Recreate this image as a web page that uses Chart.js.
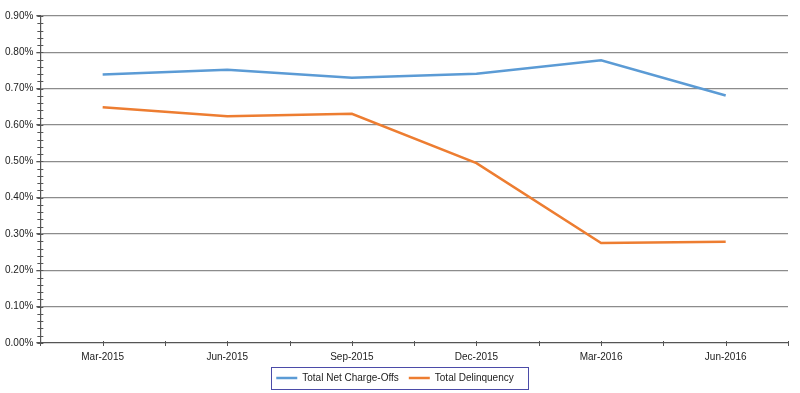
<!DOCTYPE html>
<html>
<head>
<meta charset="utf-8">
<script src="https://cdn.jsdelivr.net/npm/chart.js@4"></script>
<style>
  html, body { margin: 0; padding: 0; background: #fff; }
  #wrap { width: 800px; height: 393px; position: relative; }
</style>
</head>
<body>
<div id="wrap"><canvas id="c" width="800" height="393"></canvas></div>
<script>
const categories = ['Mar-2015', 'Jun-2015', 'Sep-2015', 'Dec-2015', 'Mar-2016', 'Jun-2016'];
const netChargeOffs = [0.739, 0.752, 0.730, 0.741, 0.778, 0.681];
const delinquency = [0.649, 0.624, 0.631, 0.495, 0.275, 0.279];
const seriesNames = ['Total Net Charge-Offs', 'Total Delinquency'];
const yMin = 0, yMax = 0.9, yMajorStep = 0.1, yMinorStep = 0.02;

function isMajor(v) { return Math.abs(v / yMajorStep - Math.round(v / yMajorStep)) < 1e-6; }

const extras = {
  id: 'extras',
  afterDraw(chart) {
    const ctx = chart.ctx;
    const x = chart.scales.x, y = chart.scales.y;
    ctx.save();
    ctx.strokeStyle = '#555';
    ctx.lineWidth = 1;
    const half = x.width / categories.length / 2;
    ctx.beginPath();
    for (let i = 0; i < categories.length; i++) {
      const cx = Math.round(x.getPixelForValue(i)) + 0.5;
      ctx.moveTo(cx, y.bottom - 2); ctx.lineTo(cx, y.bottom + 3);
      const bx = Math.round(x.getPixelForValue(i) - half) + 0.5;
      ctx.moveTo(bx, y.bottom - 2); ctx.lineTo(bx, y.bottom + 3);
    }
    const ex = Math.round(x.getPixelForValue(categories.length - 1) + half) + 0.5;
    ctx.moveTo(ex, y.bottom - 2); ctx.lineTo(ex, y.bottom + 3);
    for (let v = yMin; v <= yMax + 1e-9; v += yMinorStep) {
      const py = Math.round(y.getPixelForValue(v)) + 0.5;
      ctx.moveTo(x.left - 3, py); ctx.lineTo(x.left + 3, py);
    }
    ctx.stroke();
    const lg = chart.legend;
    if (lg) {
      ctx.strokeStyle = '#4b4ba8';
      ctx.lineWidth = 1;
      ctx.strokeRect(271.5, 367.5, 257, 22);
    }
    ctx.restore();
  }
};

new Chart(document.getElementById('c'), {
  type: 'line',
  data: {
    labels: categories,
    datasets: [
      { label: seriesNames[0], data: netChargeOffs, borderColor: '#5b9bd5', backgroundColor: '#5b9bd5', borderWidth: 2.5, pointRadius: 0, tension: 0 },
      { label: seriesNames[1], data: delinquency, borderColor: '#ed7d31', backgroundColor: '#ed7d31', borderWidth: 2.5, pointRadius: 0, tension: 0 }
    ]
  },
  options: {
    responsive: false,
    animation: false,
    devicePixelRatio: 1,
    layout: { padding: { top: 16, right: 12, left: 2, bottom: 0 } },
    plugins: {
      title: { display: false },
      tooltip: { enabled: false },
      legend: {
        position: 'bottom',
        labels: {
          usePointStyle: true,
          pointStyle: 'line',
          pointStyleWidth: 21,
          boxWidth: 21,
          boxHeight: 2,
          padding: 10,
          color: '#222',
          font: { family: 'Liberation Sans', size: 10 }
        }
      }
    },
    scales: {
      x: {
        offset: true,
        grid: { display: false, offset: true },
        border: { color: '#555', width: 1.2 },
        ticks: { color: '#222', font: { family: 'Liberation Sans', size: 10 }, padding: 0, maxRotation: 0 }
      },
      y: {
        min: yMin,
        max: yMax,
        ticks: {
          stepSize: yMinorStep,
          autoSkip: false,
          color: '#222',
          font: { family: 'Liberation Sans', size: 10 },
          padding: 3,
          callback: (v) => isMajor(v) ? v.toFixed(2) + '%' : ''
        },
        grid: {
          color: (c) => (c.tick && isMajor(c.tick.value) && c.tick.value > 0) ? '#8c8c8c' : 'rgba(0,0,0,0)',
          lineWidth: 1.3,
          tickColor: (c) => (c.tick && isMajor(c.tick.value)) ? '#555' : 'rgba(0,0,0,0)',
          tickLength: 4
        },
        border: { color: '#555', width: 1.2 }
      }
    }
  },
  plugins: [extras]
});
</script>
</body>
</html>
